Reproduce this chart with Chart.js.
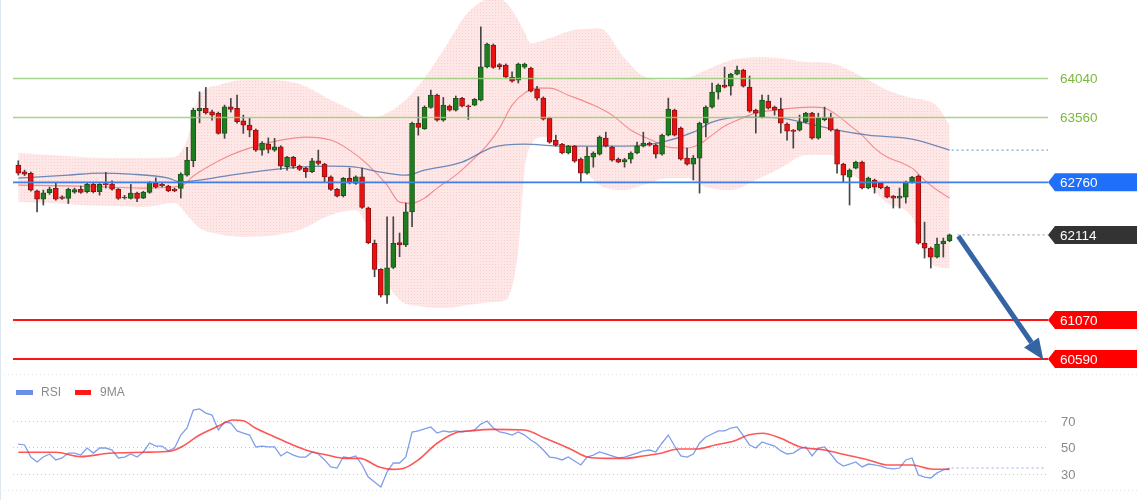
<!DOCTYPE html>
<html>
<head>
<meta charset="utf-8">
<script src="https://cdn.jsdelivr.net/npm/chart.js@4.4.1/dist/chart.umd.min.js"></script>
<style>
  html, body { margin: 0; padding: 0; background: #fff; }
  #wrap { position: relative; width: 1140px; height: 500px; overflow: hidden; }
  #main { position: absolute; left: 0; top: 0; }
  #rsi { position: absolute; left: 0; top: 372px; }
  #edge { position: absolute; left: 0; top: 0; width: 1px; height: 500px; background: #dfe7ef; }
</style>
</head>
<body>
<div id="wrap">
  <canvas id="main" width="1140" height="372"></canvas>
  <canvas id="rsi" width="1140" height="128"></canvas>
  <div id="edge"></div>
</div>
<script>
// candles
const opens  = [62972,62890,62870,62656,62554,62632,62686,62583,62563,62640,62673,62644,62735,62644,62745,62740,62673,62580,62563,62628,62567,62636,62750,62735,62714,62677,62686,62849,63025,63639,63668,63626,63607,63361,63688,63668,63516,63463,63402,63156,63230,63156,63197,62951,63066,62960,62931,62890,63025,62984,62828,62673,62595,62808,62747,62828,62444,62010,61691,61375,61715,62020,61990,62398,63484,63420,63680,63831,63525,63696,63647,63791,63700,63709,63770,64179,64445,64208,64200,64053,64016,64175,64163,63905,63795,63549,63279,63230,63120,63205,63046,62874,63070,63107,63303,63193,63046,63010,63046,63120,63205,63242,63217,63107,63340,63647,63426,63058,62984,63058,63488,63684,63868,63954,63942,64090,64138,63930,63647,63561,63758,63684,63660,63475,63400,63402,63500,63610,63303,63530,63561,63402,62984,62824,62935,63009,62690,62788,62751,62702,62591,62567,62579,62763,62837,62014,61952,61842,62002,62042];
const highs  = [63025,62910,62886,62665,62665,62702,62751,62595,62690,62690,62714,62750,62750,62745,62882,62780,62685,62600,62735,62640,62650,62770,62815,62750,62725,62690,62878,63189,63672,63872,63926,63647,63623,63709,63791,63831,63586,63545,63415,63260,63307,63300,63210,63080,63080,62972,62945,63054,63156,62995,62840,62685,62820,62935,62840,62935,62456,62051,61700,62337,62337,62137,62505,63500,63811,63700,63893,63845,63803,63710,63820,63805,63710,63790,64670,64470,64460,64220,64215,64118,64225,64225,64175,63940,63810,63560,63340,63240,63215,63215,63060,63193,63135,63330,63377,63205,63060,63055,63135,63254,63377,63255,63230,63352,63795,63660,63440,63180,63090,63500,63700,63980,63970,64175,64100,64188,64150,64065,63660,63831,63831,63696,63795,63490,63410,63586,63620,63620,63610,63684,63610,63415,62995,62925,63020,63020,62825,62800,62760,62715,62600,62690,62775,62835,62850,62272,61965,62075,62075,62125];
const lows   = [62849,62843,62652,62398,62481,62612,62540,62550,62500,62625,62625,62630,62630,62603,62690,62665,62550,62555,62555,62522,62560,62625,62690,62705,62645,62645,62567,62837,62951,63491,63598,63524,63352,63300,63623,63487,63361,63319,63140,63095,63120,63140,62919,62910,62931,62905,62820,62880,62972,62767,62660,62580,62580,62740,62735,62440,62005,61600,61350,61273,61700,61846,61970,62214,63340,63410,63670,63510,63510,63635,63635,63685,63533,63700,63760,64165,64160,64150,64040,63990,63980,64160,63870,63770,63525,63240,63205,63110,63108,63005,62763,62860,62947,63095,63195,63020,63000,62947,62996,63110,63195,63205,63058,63095,63330,63330,63033,62970,62788,62628,63316,63670,63782,63920,63831,64080,63930,63620,63365,63550,63660,63586,63365,63279,63180,63390,63490,63290,63290,63515,63390,62874,62763,62481,62925,62680,62680,62628,62680,62570,62444,62444,62505,62750,62000,61830,61707,61830,61842,62030];
const closes = [62874,62861,62665,62554,62632,62677,62554,62563,62673,62670,62636,62735,62644,62735,62730,62677,62563,62570,62628,62563,62640,62760,62700,62715,62656,62656,62861,63033,63647,63668,63614,63586,63361,63688,63656,63504,63463,63402,63156,63242,63165,63197,62960,63066,62960,62919,62890,63025,62992,62828,62673,62591,62808,62754,62828,62452,62018,61691,61375,61711,62010,61990,62398,63484,63435,63680,63831,63525,63709,63647,63791,63696,63690,63779,64179,64458,64172,64180,64056,64003,64212,64212,63880,63795,63537,63254,63217,63120,63205,63021,62874,63082,63120,63316,63205,63033,63009,63040,63120,63205,63242,63217,63107,63340,63660,63340,63046,62984,63058,63488,63684,63868,63954,63930,64090,64138,63942,63635,63610,63770,63672,63647,63488,63390,63385,63500,63610,63303,63549,63560,63402,62984,62849,62910,63009,62690,62812,62702,62690,62579,62567,62591,62763,62824,62014,61952,61842,62002,62039,62114];

// bollinger band, sampled at candle indices
const bandIdx = [0,5,10,15,20,25,27,29,32,36,40,45,50,54,56,58,61,64,68,72,76,78,80,81,82,84,86,88,90,93,97,100,104,107,110,114,118,122,126,130,133,136,139,143,145,147,149];
const bandUpper = [63119,63095,63070,63058,63058,63070,63279,63831,63954,64016,64016,63967,63770,63623,63549,63574,63709,63942,64384,64851,65023,64973,64752,64605,64470,64507,64556,64617,64642,64654,64286,64065,64016,64040,64138,64261,64298,64286,64237,64224,64138,64016,63893,63795,63770,63696,63463];
const bandLower = [62517,62505,62481,62468,62456,62505,62358,62198,62124,62088,62100,62174,62358,62419,62174,61682,61314,61240,61216,61253,61290,61314,61928,62910,63217,63316,63303,63181,62972,62726,62665,62726,62812,62812,62702,62665,62788,62935,63095,63095,62874,62726,62505,62333,61891,61719,61707];

// short moving average (red)
const midIdx = [0,10,20,26,28,30,34,38,42,46,50,53,56,59,61,63,65,67,70,73,75,77,79,81,83,85,88,92,95,98,102,104,107,109,111,113,115,118,121,124,127,129,131,133,135,137,139,141,143,145,147,149];
const midVal = [62726,62714,62689,62714,62837,62935,63095,63205,63279,63316,63279,63156,62972,62726,62517,62505,62567,62689,62849,63058,63217,63426,63709,63856,63917,63917,63831,63709,63586,63402,63254,63193,63181,63230,63340,63451,63524,63610,63647,63672,63684,63672,63586,63463,63340,63181,63070,63009,62935,62788,62665,62567];

// long moving average (blue)
const maIdx = [0,8,13,18,24,26,29,34,40,45,50,54,58,62,65,71,76,81,87,97,103,108,111,116,122,126,131,136,143,149];
const maVal = [62812,62849,62874,62861,62812,62763,62788,62849,62910,62947,62960,62947,62886,62849,62910,63009,63193,63230,63205,63205,63254,63377,63500,63561,63549,63488,63402,63340,63291,63156];

// levels
const greenLevels = [64040, 63560];
const pivotLevel = 62760;
const lastPrice = 62114;
const redLevels = [61070, 60590];
const arrowFrom = [150.4, 62100];
const arrowTo = [164, 60580];

// RSI pane
const rsi = [52.6,51.9,42.8,39.1,42.8,45.1,40.6,42.1,45.8,45.8,
  44.3,49.6,45.8,49.6,49.6,48.1,42.1,42.8,45.1,42.8,
  46.6,53.4,51.1,51.1,47.4,49.6,59.4,64.7,78.3,79.1,
  76,74.5,63.2,69.2,68.5,62.5,60.9,59.4,50.4,51.1,
  50.4,50.4,43.6,46.6,44.3,42.8,42.8,46.6,45.1,40.6,
  35.3,34.5,42.8,42.1,43.6,36.8,27.7,23.9,20.2,31.5,
  38.3,38.3,42.8,61.7,62.5,64,65.5,60.9,62.5,61.7,
  62.5,61.7,62.5,63.2,67.7,70,64.7,61.7,60.9,59.4,
  61.7,59.4,55.7,52.6,48.1,42.8,42.1,40.6,42.8,39.8,
  36.8,42.8,44.3,46.6,45.1,43.6,42.1,42.8,44.3,45.8,
  47.4,48.1,46.6,53.4,59.4,51.1,43.6,42.8,45.1,53.4,
  57.9,60.2,62.5,62.5,64.7,65.5,58.7,51.9,49.6,54.2,
  52.6,51.1,47.4,45.1,45.8,48.9,50.4,43.6,49.6,50.4,
  45.1,39.1,36,37.5,39.1,35.3,37.5,36.8,36,34.5,
  33.8,34.5,40.6,42.1,29.2,27.7,27,30.8,33,34.5];
const ma9Idx = [0,6,10,14.5,20,24.5,26,29,32,34.3,36,38,40.7,43.6,46.5,49.4,52.3,54.7,57.6,60,61.7,64,67,70,72.7,75.6,81,84.3,88.3,91.2,94.1,97,100,102.8,105.7,108.6,111.5,114.5,116.8,119.1,122,125,129,132.5,136,139,143,146,149];
const ma9Val = [46.4,46.4,43.1,45.6,46.4,47.4,50.2,59.4,66.2,70.8,70.2,64.5,58.7,52.6,47.4,44.3,41.8,41.8,35.5,33.5,34.3,40.6,53.2,61.2,62.7,63.7,63.2,56.9,48.9,42.6,41.8,41.8,43.6,45.6,48.9,48.9,51.9,54.9,59.4,60.7,56.9,50.6,48.1,44.3,40.6,36.8,36.8,33.8,33.5];
const rsiTicks = [70, 50, 30];

const X_MIN = -2.93, X_MAX = 179.47;
const LINE_L = 13, LINE_R = 1048;
const FONT = '"Liberation Sans", Arial, sans-serif';

function pts(xs, ys) { return xs.map((x, k) => ({ x: x, y: ys[k] })); }
const idx = closes.map((_, i) => i);
const up = idx.map(i => closes[i] >= opens[i]);

// dotted pink texture for the band
function bandPattern() {
  const c = document.createElement('canvas');
  c.width = 3; c.height = 3;
  const g = c.getContext('2d');
  g.fillStyle = 'rgba(250,168,168,0.27)';
  g.fillRect(0, 0, 3, 3);
  g.fillStyle = 'rgba(235,120,120,0.22)';
  g.fillRect(0, 0, 1, 1);
  return g.createPattern(c, 'repeat');
}

function hline(ctx, y, color, w, dash, x0, x1) {
  ctx.beginPath();
  ctx.setLineDash(dash || []);
  ctx.strokeStyle = color;
  ctx.lineWidth = w;
  ctx.moveTo(x0 === undefined ? LINE_L : x0, y);
  ctx.lineTo(x1 === undefined ? LINE_R : x1, y);
  ctx.stroke();
  ctx.setLineDash([]);
}

function tag(ctx, y, text, bg) {
  const h = 9;
  ctx.beginPath();
  ctx.moveTo(1048, y);
  ctx.lineTo(1055, y - h);
  ctx.lineTo(1137, y - h);
  ctx.lineTo(1137, y + h);
  ctx.lineTo(1055, y + h);
  ctx.closePath();
  ctx.fillStyle = bg;
  ctx.fill();
  ctx.fillStyle = '#fff';
  ctx.font = '13.5px ' + FONT;
  ctx.textBaseline = 'middle';
  ctx.textAlign = 'left';
  ctx.fillText(text, 1060, y + 1);
}

const mainOverlay = {
  id: 'mainOverlay',
  afterDatasetsDraw(chart) {
    const ctx = chart.ctx, xs = chart.scales.x, ys = chart.scales.y;
    ctx.save();
    greenLevels.forEach(v => hline(ctx, Math.round(ys.getPixelForValue(v)) + 0.5, 'rgba(150,205,120,0.85)', 1.5));
    hline(ctx, ys.getPixelForValue(pivotLevel), '#3f7fe8', 1.6);
    redLevels.forEach(v => hline(ctx, ys.getPixelForValue(v), '#ff1414', 2));

    // dotted continuation of the long MA and the last price
    const maEnd = xs.getPixelForValue(maIdx[maIdx.length - 1]);
    hline(ctx, ys.getPixelForValue(maVal[maVal.length - 1]), 'rgba(80,125,200,0.9)', 1, [2, 3], maEnd + 2, LINE_R);
    const lastX = xs.getPixelForValue(closes.length - 1);
    hline(ctx, ys.getPixelForValue(lastPrice), 'rgba(120,120,120,0.8)', 1, [2, 3], lastX + 8, LINE_R);

    // arrow
    const ax0 = xs.getPixelForValue(arrowFrom[0]), ay0 = ys.getPixelForValue(arrowFrom[1]);
    const ax1 = xs.getPixelForValue(arrowTo[0]), ay1 = ys.getPixelForValue(arrowTo[1]);
    const ang = Math.atan2(ay1 - ay0, ax1 - ax0);
    const hl = 21, hw = 9;
    const bx = ax1 - hl * Math.cos(ang), by = ay1 - hl * Math.sin(ang);
    ctx.strokeStyle = '#3564a5';
    ctx.fillStyle = '#3564a5';
    ctx.lineWidth = 5;
    ctx.beginPath();
    ctx.moveTo(ax0, ay0);
    ctx.lineTo(bx, by);
    ctx.stroke();
    ctx.beginPath();
    ctx.moveTo(ax1, ay1);
    ctx.lineTo(bx + hw * Math.sin(ang), by - hw * Math.cos(ang));
    ctx.lineTo(bx - hw * Math.sin(ang), by + hw * Math.cos(ang));
    ctx.closePath();
    ctx.fill();

    // right-hand labels
    ctx.font = '13.5px ' + FONT;
    ctx.textBaseline = 'middle';
    ctx.fillStyle = '#7cb83e';
    greenLevels.forEach(v => ctx.fillText(String(v), 1060, ys.getPixelForValue(v) + 1));
    tag(ctx, ys.getPixelForValue(pivotLevel), String(pivotLevel), '#1f6ffb');
    tag(ctx, ys.getPixelForValue(lastPrice), String(lastPrice), '#333333');
    redLevels.forEach(v => tag(ctx, ys.getPixelForValue(v), String(v), '#ff0000'));
    ctx.restore();
  }
};

new Chart(document.getElementById('main'), {
  type: 'bar',
  data: {
    datasets: [
      {
        type: 'bar', label: 'body',
        data: idx.map(i => ({ x: i, y: [opens[i], closes[i]] })),
        backgroundColor: idx.map(i => up[i] ? '#1e7d1e' : '#ec1111'),
        borderColor: idx.map(i => up[i] ? '#195519' : '#8d1212'),
        borderWidth: 1, borderSkipped: false, barThickness: 5, grouped: false, order: 1
      },
      {
        type: 'bar', label: 'wick',
        data: idx.map(i => ({ x: i, y: [lows[i], highs[i]] })),
        backgroundColor: '#454545', barThickness: 1, grouped: false, order: 2
      },
      {
        type: 'line', label: 'ma', data: pts(maIdx, maVal),
        borderColor: 'rgba(85,120,175,0.85)', borderWidth: 1.3, pointRadius: 0,
        cubicInterpolationMode: 'monotone', order: 3
      },
      {
        type: 'line', label: 'mid', data: pts(midIdx, midVal),
        borderColor: 'rgba(240,110,110,0.75)', borderWidth: 1.1, pointRadius: 0,
        cubicInterpolationMode: 'monotone', order: 4
      },
      {
        type: 'line', label: 'upper', data: pts(bandIdx, bandUpper),
        borderWidth: 0, borderColor: 'rgba(0,0,0,0)', pointRadius: 0,
        backgroundColor: bandPattern(), fill: '+1',
        cubicInterpolationMode: 'monotone', order: 6
      },
      {
        type: 'line', label: 'lower', data: pts(bandIdx, bandLower),
        borderWidth: 0, borderColor: 'rgba(0,0,0,0)', pointRadius: 0, fill: false,
        cubicInterpolationMode: 'monotone', order: 7
      }
    ]
  },
  options: {
    responsive: false,
    animation: false,
    layout: { padding: 0 },
    scales: {
      x: { type: 'linear', display: false, min: X_MIN, max: X_MAX, offset: false },
      y: { display: false, min: 60430, max: 65000 }
    },
    plugins: { legend: { display: false }, tooltip: { enabled: false } }
  },
  plugins: [mainOverlay]
});

const rsiOverlay = {
  id: 'rsiOverlay',
  beforeDatasetsDraw(chart) {
    const ctx = chart.ctx, ys = chart.scales.y, area = chart.chartArea;
    ctx.save();
    hline(ctx, area.top + 0.5, '#dde3ea', 1, [1, 3], 0, 1140);
    hline(ctx, area.bottom + 0.5, '#dde3ea', 1, [1, 3], 0, 1140);
    rsiTicks.forEach(v => hline(ctx, Math.round(ys.getPixelForValue(v)) + 0.5, '#c8c8c8', 1, [1, 3], LINE_L, 1046));
    ctx.font = '13px ' + FONT;
    ctx.fillStyle = '#8a8a8a';
    ctx.textBaseline = 'middle';
    rsiTicks.forEach(v => ctx.fillText(String(v), 1061, ys.getPixelForValue(v) + 1));
    // legend
    ctx.font = '12px ' + FONT;
    ctx.fillStyle = '#6b8ee6';
    ctx.fillRect(16, 18, 17, 5);
    ctx.fillStyle = '#ff1a1a';
    ctx.fillRect(75, 18, 16, 5);
    ctx.fillStyle = '#8a8a8a';
    ctx.fillText('RSI', 41, 21);
    ctx.fillText('9MA', 100, 21);
    ctx.restore();
  },
  afterDatasetsDraw(chart) {
    const ctx = chart.ctx, xs = chart.scales.x, ys = chart.scales.y;
    ctx.save();
    const lx = xs.getPixelForValue(rsi.length - 1);
    hline(ctx, ys.getPixelForValue(rsi[rsi.length - 1]), 'rgba(120,150,230,0.8)', 1, [2, 3], lx + 2, 1046);
    ctx.restore();
  }
};

new Chart(document.getElementById('rsi'), {
  type: 'line',
  data: {
    datasets: [
      {
        label: 'RSI', data: rsi.map((v, i) => ({ x: i, y: v })),
        borderColor: 'rgba(105,140,230,0.85)', borderWidth: 1.3, pointRadius: 0, order: 2
      },
      {
        label: '9MA', data: pts(ma9Idx, ma9Val),
        borderColor: 'rgba(255,45,45,0.8)', borderWidth: 1.6, pointRadius: 0,
        cubicInterpolationMode: 'monotone', order: 1
      }
    ]
  },
  options: {
    responsive: false,
    animation: false,
    layout: { padding: { top: 2, bottom: 10, left: 0, right: 0 } },
    scales: {
      x: { type: 'linear', display: false, min: X_MIN, max: X_MAX },
      y: { display: false, min: 17.9, max: 105.5 }
    },
    plugins: { legend: { display: false }, tooltip: { enabled: false } }
  },
  plugins: [rsiOverlay]
});
</script>
</body>
</html>
